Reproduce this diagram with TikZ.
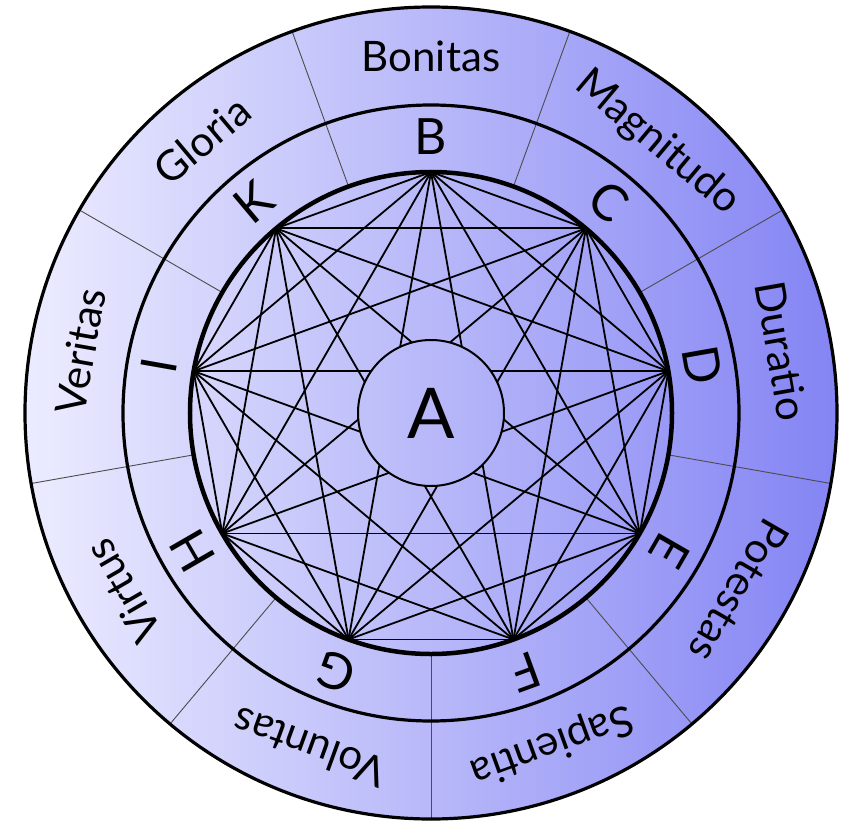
\documentclass[tikz,border=0pt]{standalone}
\usepackage{fontspec}
\setmainfont{Lato}
\usepackage{xcolor}
\usepackage{tikz}
\usetikzlibrary{positioning}
\definecolor{wheelLight}{RGB}{236,236,255}
\definecolor{wheelDark}{RGB}{132,132,244}

\begin{document}
\begin{tikzpicture}[x=1pt, y=1pt,
    ring/.style={draw=black, line width=3.2pt},
    innerring/.style={draw=black, line width=4.5pt},
    chord/.style={black, line width=1.8pt},
    divider/.style={draw=black!70, line width=0.9pt},
    letter/.style={inner sep=0pt, text height=34pt, text depth=0pt, font=\fontsize{50}{50}\selectfont},
    word/.style={inner sep=0pt, text height=30pt, text depth=0pt, font=\fontsize{42}{42}\selectfont},
    hub/.style={circle, draw=black, line width=2pt, minimum size=146pt, inner sep=0pt, font=\fontsize{70}{70}\selectfont}
]

% Page frame
\useasboundingbox (-431,-412) rectangle (425,413);

% Background disk
\shade[left color=wheelLight, right color=wheelDark] (0,0) circle (406);

% Sector dividers
\foreach \ang in {110,70,30,-10,-50,-90,-130,-170,150}
    \draw[divider] (\ang:241) -- (\ang:406);

% Rings
\draw[ring] (0,0) circle (406);
\draw[ring] (0,0) circle (308);
\draw[innerring] (0,0) circle (241);

% Vertices, letters and names
\foreach \name/\ang/\word in {B/90/Bonitas, C/50/Magnitudo, D/10/Duratio,
    E/-30/Potestas, F/-70/Sapientia, G/-110/Voluntas, H/-150/Virtus,
    I/170/Veritas, K/130/Gloria}
{
    \coordinate (v\name) at (\ang:241);
    \node[letter, rotate=\ang-90] (l\name) at (\ang:275) {\name};
    \node[word, rotate=\ang-90] (w\name) at (\ang:356) {\word};
}

% Chords
\foreach \a/\rest in {B/{C,D,E,F,G,H,I,K}, C/{D,E,F,G,H,I,K}, D/{E,F,G,H,I,K},
    E/{F,G,H,I,K}, F/{G,H,I,K}, G/{H,I,K}, H/{I,K}, I/{K}}
    \foreach \b in \rest
        \draw[chord] (v\a) -- (v\b);

% Centre
\begin{scope}
\clip (0,0) circle (73);
\shade[left color=wheelLight, right color=wheelDark] (0,0) circle (406);
\end{scope}
\node[hub] (A) at (0,0) {A};

\end{tikzpicture}
\end{document}
